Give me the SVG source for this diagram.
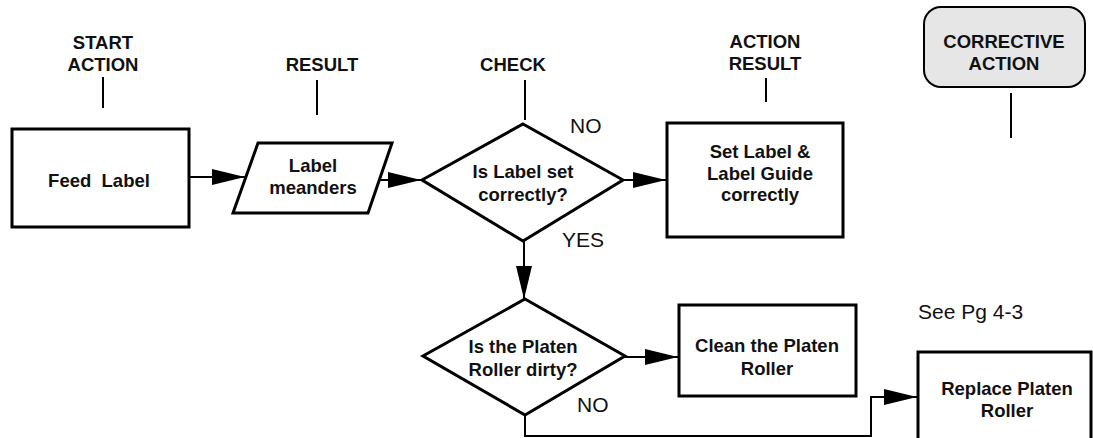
<svg xmlns="http://www.w3.org/2000/svg" width="1093" height="438" viewBox="0 0 1093 438">
<style>
.box{fill:#fff;stroke:#000;stroke-width:3}
.b{font-family:"Liberation Sans",Arial,sans-serif;font-weight:bold;font-size:18.5px;fill:#111;text-anchor:middle}
.r{font-family:"Liberation Sans",Arial,sans-serif;font-size:21px;fill:#111}
.c{fill:none;stroke:#000;stroke-width:2}
.tick{stroke:#000;stroke-width:2}
</style>
<defs>
<marker id="ah" markerUnits="userSpaceOnUse" markerWidth="34" markerHeight="17" refX="33" refY="8" orient="auto">
<path d="M0,0 L33,8 L0,16 z" fill="#000"/>
</marker>
</defs>
<rect width="1093" height="438" fill="#fff"/>
<g id="headers">
<text class="b" x="103" y="49">START</text>
<text class="b" x="103" y="71">ACTION</text>
<line class="tick" x1="103" y1="77" x2="103" y2="108"/>
<text class="b" x="322" y="71">RESULT</text>
<line class="tick" x1="317" y1="80" x2="317" y2="115"/>
<text class="b" x="513" y="71">CHECK</text>
<line class="tick" x1="525" y1="80" x2="525" y2="120"/>
<text class="b" x="765" y="48">ACTION</text>
<text class="b" x="765" y="70">RESULT</text>
<line class="tick" x1="766" y1="78" x2="766" y2="102"/>
<line class="tick" x1="1011" y1="93" x2="1011" y2="138"/>
</g>
<g id="corrective">
<rect x="924" y="7" width="161" height="80" rx="17" ry="17" fill="#e6e6e6" stroke="#000" stroke-width="2"/>
<text class="b" x="1004" y="48">CORRECTIVE</text>
<text class="b" x="1004" y="70">ACTION</text>
</g>
<g id="connectors">
<line class="c" x1="190" y1="177" x2="245" y2="177" marker-end="url(#ah)"/>
<line class="c" x1="380" y1="180" x2="421" y2="180" marker-end="url(#ah)"/>
<line class="c" x1="623" y1="180" x2="666" y2="180" marker-end="url(#ah)"/>
<line class="c" x1="524" y1="241" x2="524" y2="299" marker-end="url(#ah)"/>
<line class="c" x1="625" y1="357" x2="678" y2="357" marker-end="url(#ah)"/>
<polyline class="c" points="525,415 525,436 871,436 871,397 917,397" marker-end="url(#ah)"/>
</g>
<g id="feed">
<rect class="box" x="12" y="129" width="177" height="98"/>
<text class="b" x="99" y="187" xml:space="preserve">Feed  Label</text>
</g>
<g id="meanders">
<polygon class="box" points="258,143 392,143 368,213 233,213"/>
<text class="b" x="313" y="172">Label</text>
<text class="b" x="313" y="194">meanders</text>
</g>
<g id="check1">
<polygon class="box" points="523,124 623,180 523,241 422,180"/>
<text class="b" x="523" y="178">Is Label set</text>
<text class="b" x="523" y="201">correctly?</text>
</g>
<g id="setlabel">
<rect class="box" x="667" y="123" width="176" height="114"/>
<text class="b" x="760" y="158">Set Label &amp;</text>
<text class="b" x="760" y="180">Label Guide</text>
<text class="b" x="760" y="201">correctly</text>
</g>
<g id="check2">
<polygon class="box" points="525,299 625,356 525,415 423,356"/>
<text class="b" x="523" y="353">Is the Platen</text>
<text class="b" x="523" y="376">Roller dirty?</text>
</g>
<g id="clean">
<rect class="box" x="679" y="305" width="177" height="91"/>
<text class="b" x="767" y="352">Clean the Platen</text>
<text class="b" x="767" y="375">Roller</text>
</g>
<g id="replace">
<rect class="box" x="918" y="352" width="173" height="88" stroke-width="3.5"/>
<text class="b" x="1007" y="395">Replace Platen</text>
<text class="b" x="1007" y="417">Roller</text>
</g>
<g id="labels">
<text class="r" x="570" y="133">NO</text>
<text class="r" x="562" y="247">YES</text>
<text class="r" x="577" y="412">NO</text>
<text class="r" x="918" y="319">See Pg 4-3</text>
</g>
</svg>
